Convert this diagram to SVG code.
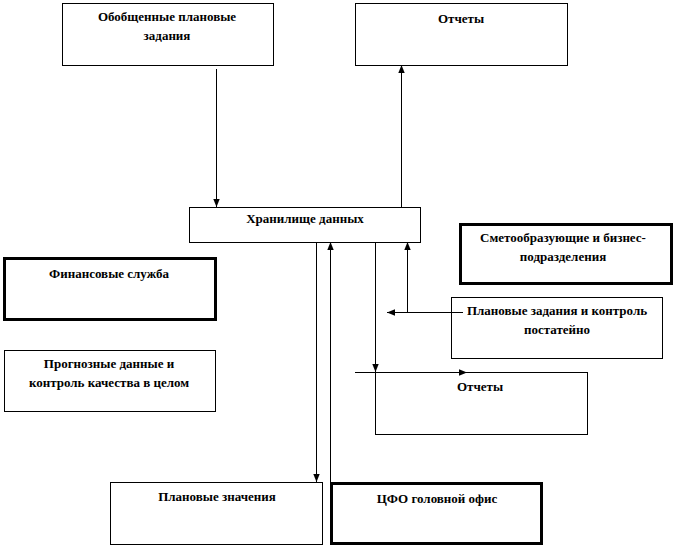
<svg xmlns="http://www.w3.org/2000/svg" width="675" height="548" viewBox="0 0 675 548">
<style>
.b{fill:#fff;stroke:#000;stroke-width:1}
.t{fill:#fff;stroke:#000;stroke-width:3}
text{font-family:'Liberation Serif','DejaVu Serif',serif;font-weight:bold;font-size:13px;text-anchor:middle;fill:#000}
.c line{stroke:#000;stroke-width:1;fill:none}
</style>
<defs>
<marker id="a" viewBox="0 0 10 10" refX="10" refY="5" markerWidth="8" markerHeight="8" markerUnits="userSpaceOnUse" orient="auto"><path d="M0,1 L10,5 L0,9 Z" fill="#000"/></marker>
</defs>
<rect width="675" height="548" fill="#fff"/>
<g id="n1"><rect class="b" x="62.5" y="3.5" width="211" height="62"/><text x="167" y="21">Обобщенные плановые</text><text x="167" y="40">задания</text></g>
<g id="n2"><rect class="b" x="355.5" y="3.5" width="212" height="62"/><text x="461" y="23">Отчеты</text></g>
<g id="n3"><rect class="b" x="189.5" y="207.5" width="231" height="35"/><text x="305" y="223">Хранилище  данных</text></g>
<g id="n4"><rect class="t" x="460.5" y="224.5" width="211" height="59"/><text x="563" y="242">Сметообразующие и бизнес-</text><text x="563" y="261">подразделения</text></g>
<g id="n5"><rect class="t" x="4.5" y="258.5" width="211" height="61"/><text x="109" y="278">Финансовые служба</text></g>
<g id="n6"><rect class="b" x="4.5" y="350.5" width="211" height="61"/><text x="109" y="368">Прогнозные данные и</text><text x="109" y="387">контроль качества в целом</text></g>
<g id="n7"><rect class="b" x="451.5" y="297.5" width="211" height="61"/><text x="557" y="315">Плановые задания и контроль</text><text x="557" y="334">постатейно</text></g>
<g id="n8"><rect class="b" x="375.5" y="372.5" width="212" height="62"/><text x="480" y="391">Отчеты</text></g>
<g id="n9"><rect class="b" x="110.5" y="482.5" width="212" height="62"/><text x="217" y="501">Плановые значения</text></g>
<g id="n10"><rect class="t" x="331.5" y="483.5" width="210" height="60"/><text x="437" y="503">ЦФО головной офис</text></g>
<g class="c" id="connectors">
<line x1="216.5" y1="69" x2="216.5" y2="207" marker-end="url(#a)"/>
<line x1="401.5" y1="207" x2="401.5" y2="65" marker-end="url(#a)"/>
<line x1="316.5" y1="242" x2="316.5" y2="482" marker-end="url(#a)"/>
<line x1="330.5" y1="482" x2="330.5" y2="242" marker-end="url(#a)"/>
<line x1="375.5" y1="242" x2="375.5" y2="372" marker-end="url(#a)"/>
<line x1="407.5" y1="312.5" x2="407.5" y2="242" marker-end="url(#a)"/>
<line x1="463" y1="312.5" x2="387" y2="312.5" marker-end="url(#a)"/>
<line x1="355" y1="372.5" x2="467" y2="372.5" marker-end="url(#a)"/>
</g>
</svg>
